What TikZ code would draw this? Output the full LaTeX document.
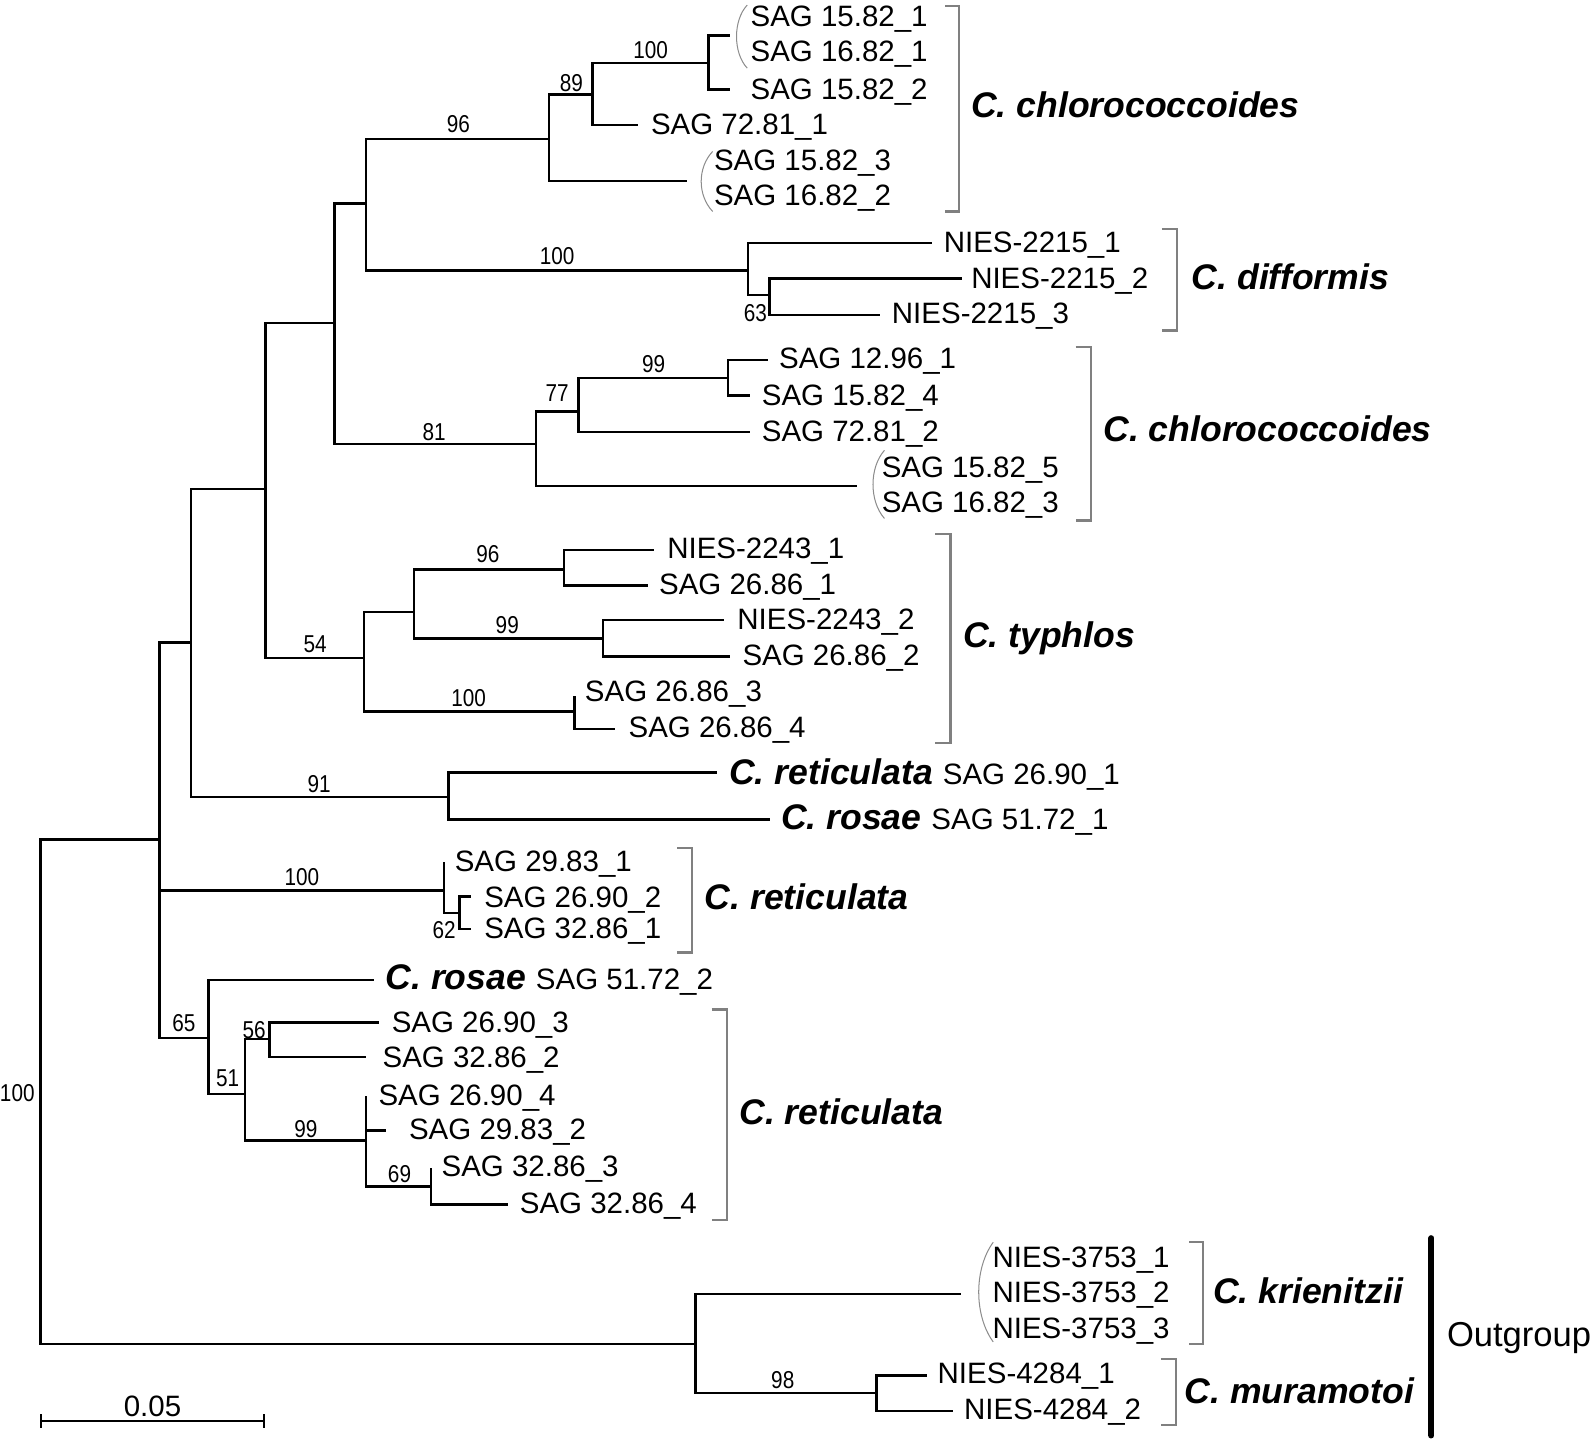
\documentclass[tikz,border=0pt]{standalone}
\usepackage{fontspec}
\usetikzlibrary{calc}
\setmainfont{Liberation Sans}
\newcommand{\bsv}[1]{\scalebox{0.85}[1]{#1}}
\begin{document}
\begin{tikzpicture}[x=0.5pt,y=-0.5pt,
  br/.style={line width=1.2pt,line join=miter},
  leaf/.style={anchor=west,inner sep=0pt,font=\fontsize{14.5}{17}\selectfont,text height=10.4pt,text depth=0pt},
  spec/.style={anchor=west,inner sep=0pt,font=\fontsize{17.5}{20}\selectfont\bfseries\itshape,text height=12.5pt,text depth=0pt},
  boot/.style={anchor=center,inner sep=0pt,font=\fontsize{12}{14}\selectfont,text height=8.6pt,text depth=0pt},
  brk/.style={draw=black!50,line width=1.1pt},
  par/.style={draw=black!45,line width=0.5pt}]
\useasboundingbox (0,0) rectangle (1568,1416);
% ---------- internal nodes ----------
\coordinate (root) at (40,1075);
\coordinate (A) at (157,826);
\coordinate (B) at (188,632);
\coordinate (R1) at (437,876);
\coordinate (C65) at (205,1021);
\coordinate (D) at (261,481);
\coordinate (E91) at (441,784);
\coordinate (F) at (329,318);
\coordinate (T54) at (358,647);
\coordinate (G) at (360,200);
\coordinate (H81) at (527,437);
\coordinate (I96) at (540,137);
\coordinate (J100) at (736,266);
\coordinate (K89) at (583,93);
\coordinate (M100) at (697,62);
\coordinate (N63) at (757,290);
\coordinate (O77) at (569,405);
\coordinate (P99) at (716,372);
\coordinate (U) at (407,602);
\coordinate (V100) at (565,700);
\coordinate (W96) at (555,560);
\coordinate (X99) at (593,628);
\coordinate (Y62) at (452,898);
\coordinate (Z51) at (241,1076);
\coordinate (Q56) at (265,1022);
\coordinate (S99) at (360,1122);
\coordinate (AA69) at (424,1167);
\coordinate (OG) at (684,1322);
\coordinate (BB98) at (862,1370);
% ---------- leaf ends ----------
\coordinate (l1) at (718,35);
\coordinate (l2) at (718,88);
\coordinate (l3) at (628,123);
\coordinate (l4) at (676,178);
\coordinate (l5) at (917,239);
\coordinate (l6) at (946,274);
\coordinate (l7) at (866,310);
\coordinate (l8) at (755,354);
\coordinate (l9) at (738,389);
\coordinate (l10) at (738,425);
\coordinate (l11) at (843,478);
\coordinate (l12) at (643,541);
\coordinate (l13) at (637,576);
\coordinate (l14) at (712,610);
\coordinate (l15) at (718,646);
\coordinate (l16) at (565,685);
\coordinate (l17) at (605,717);
\coordinate (l18) at (705,760);
\coordinate (l19) at (757,806);
\coordinate (l20) at (437,848);
\coordinate (l21) at (463,882);
\coordinate (l22) at (463,914);
\coordinate (l23) at (368,964);
\coordinate (l24) at (373,1006);
\coordinate (l25) at (360,1040);
\coordinate (l26) at (360,1078);
\coordinate (l27) at (380,1112);
\coordinate (l28) at (424,1149);
\coordinate (l29) at (500,1185);
\coordinate (l30) at (945,1273);
\coordinate (l31) at (912,1353);
\coordinate (l32) at (937,1388);
% ---------- branches ----------
\draw[br] (root) |- (A); \draw[br] (root) |- (OG);
\draw[br] (A) |- (B); \draw[br] (A) |- (R1); \draw[br] (A) |- (C65);
\draw[br] (B) |- (D); \draw[br] (B) |- (E91);
\draw[br] (D) |- (F); \draw[br] (D) |- (T54);
\draw[br] (F) |- (G); \draw[br] (F) |- (H81);
\draw[br] (G) |- (I96); \draw[br] (G) |- (J100);
\draw[br] (I96) |- (K89); \draw[br] (I96) |- (l4);
\draw[br] (K89) |- (M100); \draw[br] (K89) |- (l3);
\draw[br] (M100) |- (l1); \draw[br] (M100) |- (l2);
\draw[br] (J100) |- (l5); \draw[br] (J100) |- (N63);
\draw[br] (N63) |- (l6); \draw[br] (N63) |- (l7);
\draw[br] (H81) |- (O77); \draw[br] (H81) |- (l11);
\draw[br] (O77) |- (P99); \draw[br] (O77) |- (l10);
\draw[br] (P99) |- (l8); \draw[br] (P99) |- (l9);
\draw[br] (T54) |- (U); \draw[br] (T54) |- (V100);
\draw[br] (U) |- (W96); \draw[br] (U) |- (X99);
\draw[br] (W96) |- (l12); \draw[br] (W96) |- (l13);
\draw[br] (X99) |- (l14); \draw[br] (X99) |- (l15);
\draw[br] (V100) |- (l16); \draw[br] (V100) |- (l17);
\draw[br] (E91) |- (l18); \draw[br] (E91) |- (l19);
\draw[br] (R1) |- (l20); \draw[br] (R1) |- (Y62);
\draw[br] (Y62) |- (l21); \draw[br] (Y62) |- (l22);
\draw[br] (C65) |- (l23); \draw[br] (C65) |- (Z51);
\draw[br] (Z51) |- (Q56); \draw[br] (Z51) |- (S99);
\draw[br] (Q56) |- (l24); \draw[br] (Q56) |- (l25);
\draw[br] (S99) |- (l26); \draw[br] (S99) |- (l27); \draw[br] (S99) |- (AA69);
\draw[br] (AA69) |- (l28); \draw[br] (AA69) |- (l29);
\draw[br] (OG) |- (l30); \draw[br] (OG) |- (BB98);
\draw[br] (BB98) |- (l31); \draw[br] (BB98) |- (l32);
% ---------- bootstrap values ----------
\node[boot] (b0) at (17,1075) {\bsv{100}};
\node[boot] (b1) at (451,122) {\bsv{96}};
\node[boot] (b2) at (562,81) {\bsv{89}};
\node[boot] (b3) at (640,49) {\bsv{100}};
\node[boot] (b4) at (548,252) {\bsv{100}};
\node[boot] (b5) at (743,308) {\bsv{63}};
\node[boot] (b6) at (427,425) {\bsv{81}};
\node[boot] (b7) at (548,386) {\bsv{77}};
\node[boot] (b8) at (643,358) {\bsv{99}};
\node[boot] (b9) at (310,633) {\bsv{54}};
\node[boot] (b10) at (480,545) {\bsv{96}};
\node[boot] (b11) at (499,615) {\bsv{99}};
\node[boot] (b12) at (461,686) {\bsv{100}};
\node[boot] (b13) at (314,771) {\bsv{91}};
\node[boot] (b14) at (297,862) {\bsv{100}};
\node[boot] (b15) at (437,915) {\bsv{62}};
\node[boot] (b16) at (181,1006) {\bsv{65}};
\node[boot] (b17) at (224,1060) {\bsv{51}};
\node[boot] (b18) at (250,1013) {\bsv{56}};
\node[boot] (b19) at (301,1110) {\bsv{99}};
\node[boot] (b20) at (393,1155) {\bsv{69}};
\node[boot] (b21) at (770,1357) {\bsv{98}};
% ---------- leaf labels ----------
\node[leaf] (t1) at (738,16) {SAG 15.82\_1};
\node[leaf] (t2) at (738,50) {SAG 16.82\_1};
\node[leaf] (t3) at (738,87) {SAG 15.82\_2};
\node[leaf] (t4) at (640,122) {SAG 72.81\_1};
\node[leaf] (t5) at (702,157) {SAG 15.82\_3};
\node[leaf] (t6) at (702,192) {SAG 16.82\_2};
\node[leaf] (t7) at (928,238) {NIES-2215\_1};
\node[leaf] (t8) at (955,273) {NIES-2215\_2};
\node[leaf] (t9) at (877,308) {NIES-2215\_3};
\node[leaf] (t10) at (766,352) {SAG 12.96\_1};
\node[leaf] (t11) at (749,388) {SAG 15.82\_4};
\node[leaf] (t12) at (749,424) {SAG 72.81\_2};
\node[leaf] (t13) at (867,459) {SAG 15.82\_5};
\node[leaf] (t14) at (867,494) {SAG 16.82\_3};
\node[leaf] (t15) at (656,539) {NIES-2243\_1};
\node[leaf] (t16) at (648,574) {SAG 26.86\_1};
\node[leaf] (t17) at (725,609) {NIES-2243\_2};
\node[leaf] (t18) at (730,644) {SAG 26.86\_2};
\node[leaf] (t19) at (575,680) {SAG 26.86\_3};
\node[leaf] (t20) at (618,715) {SAG 26.86\_4};
\node[spec] (t21) at (717,759) {C. reticulata \textnormal{\fontsize{14.5}{17}\selectfont SAG 26.90\_1}};
\node[spec] (t22) at (768,803) {C. rosae \textnormal{\fontsize{14.5}{17}\selectfont SAG 51.72\_1}};
\node[leaf] (t23) at (447,847) {SAG 29.83\_1};
\node[leaf] (t24) at (476,882) {SAG 26.90\_2};
\node[leaf] (t25) at (476,913) {SAG 32.86\_1};
\node[spec] (t26) at (379,961) {C. rosae \textnormal{\fontsize{14.5}{17}\selectfont SAG 51.72\_2}};
\node[leaf] (t27) at (385,1005) {SAG 26.90\_3};
\node[leaf] (t28) at (376,1040) {SAG 32.86\_2};
\node[leaf] (t29) at (372,1077) {SAG 26.90\_4};
\node[leaf] (t30) at (402,1111) {SAG 29.83\_2};
\node[leaf] (t31) at (434,1147) {SAG 32.86\_3};
\node[leaf] (t32) at (511,1183) {SAG 32.86\_4};
\node[leaf] (t33) at (976,1236) {NIES-3753\_1};
\node[leaf] (t34) at (976,1271) {NIES-3753\_2};
\node[leaf] (t35) at (976,1306) {NIES-3753\_3};
\node[leaf] (t36) at (922,1351) {NIES-4284\_1};
\node[leaf] (t37) at (948,1386) {NIES-4284\_2};
% ---------- parentheses ----------
\draw[par] (735,5) .. controls (721,20) and (721,52) .. (735,67);
\draw[par] (701,149) .. controls (686,165) and (686,192) .. (701,208);
\draw[par] (870,443) .. controls (855,460) and (855,493) .. (870,510);
\draw[par] (977,1222) .. controls (958,1248) and (958,1294) .. (977,1320);
% ---------- clade brackets ----------
\draw[brk] (930,6) -- (943,6) -- (943,208) -- (930,208);
\draw[brk] (1143,225) -- (1158,225) -- (1158,325) -- (1143,325);
\draw[brk] (1058,341) -- (1073,341) -- (1073,512) -- (1058,512);
\draw[brk] (920,525) -- (935,525) -- (935,731) -- (920,731);
\draw[brk] (666,834) -- (681,834) -- (681,937) -- (666,937);
\draw[brk] (700,993) -- (715,993) -- (715,1200) -- (700,1200);
\draw[brk] (1170,1222) -- (1183,1222) -- (1183,1322) -- (1170,1322);
\draw[brk] (1142,1337) -- (1157,1337) -- (1157,1402) -- (1142,1402);
\node[spec] (s1) at (955,103) {C. chlorococcoides};
\node[spec] (s2) at (1172,272) {C. difformis};
\node[spec] (s3) at (1085,422) {C. chlorococcoides};
\node[spec] (s4) at (947,624) {C. typhlos};
\node[spec] (s5) at (693,882) {C. reticulata};
\node[spec] (s6) at (727,1094) {C. reticulata};
\node[spec] (s7) at (1193,1270) {C. krienitzii};
\node[spec] (s8) at (1165,1368) {C. muramotoi};
% ---------- outgroup bar ----------
\coordinate (og1) at (1408,1218);
\coordinate (og2) at (1408,1412);
\draw[line width=3pt,line cap=round] (og1) -- (og2);
\node[anchor=west,inner sep=0pt,font=\fontsize{17}{20}\selectfont,text height=12.2pt,text depth=0pt] (ogl) at (1423,1312) {Outgroup};
% ---------- scale bar ----------
\coordinate (sb1) at (40,1398);
\coordinate (sb2) at (260,1398);
\draw[line width=1.1pt] (sb1) -- (sb2);
\draw[line width=1.1pt] ($(sb1)+(0,-7)$) -- ($(sb1)+(0,7)$);
\draw[line width=1.1pt] ($(sb2)+(0,-7)$) -- ($(sb2)+(0,7)$);
\node[anchor=center,inner sep=0pt,font=\fontsize{14.5}{17}\selectfont,text height=10.4pt,text depth=0pt] (sbl) at (150,1383) {0.05};
\end{tikzpicture}
\end{document}
